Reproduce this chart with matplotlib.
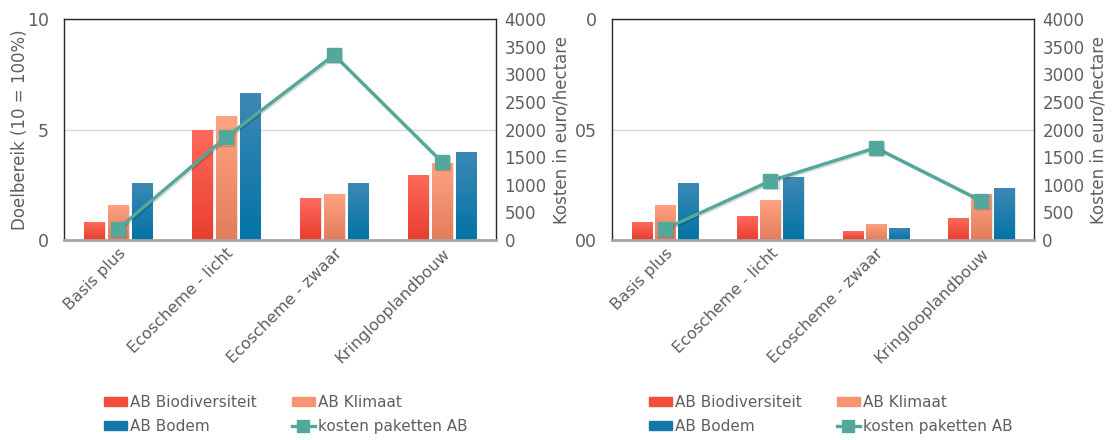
import numpy as np
import matplotlib
matplotlib.use("Agg")
import matplotlib.pyplot as plt
import matplotlib.patheffects as pe
from matplotlib.patches import Patch
from matplotlib.lines import Line2D

plt.rcParams['font.family'] = ['DejaVu Sans']

categories = ['Basis plus', 'Ecoscheme - licht', 'Ecoscheme - zwaar', 'Kringlooplandbouw']
series_names = ['AB Biodiversiteit', 'AB Klimaat', 'AB Bodem']
line_name = 'kosten paketten AB'

# left chart
left_bio = [0.8, 5.0, 1.9, 2.95]
left_klimaat = [1.6, 5.6, 2.1, 3.5]
left_bodem = [2.6, 6.65, 2.6, 4.0]
left_kosten = [200, 1860, 3350, 1410]

# right chart
right_bio = [0.83, 1.1, 0.4, 1.0]
right_klimaat = [1.6, 1.82, 0.74, 2.1]
right_bodem = [2.6, 2.85, 0.56, 2.35]
right_kosten = [200, 1070, 1670, 710]

# gradient (top, bottom) per series
grads = [('#FF6A5C', '#E83E2E'), ('#FFA382', '#E27D5B'), ('#3D88B5', '#0274A6')]
solid = ['#F24C3D', '#F79473', '#1479A8']
teal = '#52A89B'
txt = '#5F5F5F'


def draw_bars(ax, values, offset, top_c, bot_c, width=0.19):
    x = np.arange(len(values)) + offset
    bars = ax.bar(x, values, width=width, color='none', edgecolor='none', zorder=2)
    grad = np.linspace(0, 1, 100).reshape(-1, 1)
    cmap = matplotlib.colors.LinearSegmentedColormap.from_list('g', [bot_c, top_c])
    for b in bars:
        x0, y0 = b.get_x(), b.get_y()
        w, h = b.get_width(), b.get_height()
        im = ax.imshow(grad, extent=[x0, x0 + w, y0, y0 + h], origin='lower',
                       cmap=cmap, aspect='auto', zorder=2)
        im.set_clip_path(b)
        ax.add_patch(plt.Rectangle((x0 + 0.012, y0), w, h, color='#000000', alpha=0.10,
                                   zorder=1.5, lw=0))


def make_panel(rect, bio, klimaat, bodem, kosten, left_labels, show_ylabel):
    ax = fig.add_axes(rect)
    for vals, off, (t, b) in zip([bio, klimaat, bodem], [-0.22, 0, 0.22], grads):
        draw_bars(ax, vals, off, t, b)
    ax.set_xlim(-0.5, 3.5)
    ax.set_ylim(0, 10)
    ax.set_yticks([0, 5, 10])
    ax.set_yticklabels(left_labels, color=txt, fontsize=12.5)
    ax.yaxis.grid(True, color='#D9D9D9', lw=1)
    ax.set_axisbelow(True)
    ax.tick_params(axis='y', length=0, pad=11)
    ax.tick_params(axis='x', length=0, pad=4)
    ax.set_xticks(range(len(categories)))
    ax.set_xticklabels(categories, rotation=45, ha='right', rotation_mode='anchor',
                       color=txt, fontsize=11.5)
    for s in ['left', 'top', 'right']:
        ax.spines[s].set_color('#262626')
        ax.spines[s].set_linewidth(1)
    ax.spines['bottom'].set_color('#A6A6A6')
    ax.spines['bottom'].set_linewidth(2)
    if show_ylabel:
        ax.set_ylabel('Doelbereik (10 = 100%)', color=txt, fontsize=12)
        ax.yaxis.set_label_coords(-0.08, 0.5)

    ax2 = ax.twinx()
    ax2.set_ylim(0, 4000)
    ax2.set_yticks(np.arange(0, 4001, 500))
    ax2.tick_params(axis='y', length=0, labelsize=12, labelcolor=txt, pad=6)
    for s in ax2.spines.values():
        s.set_visible(False)
    ax2.set_ylabel('Kosten in euro/hectare', color=txt, fontsize=12, labelpad=4)
    ax2.plot(range(len(kosten)), kosten, color=teal, lw=2.4, marker='s', markersize=10,
             zorder=5, path_effects=[pe.SimpleLineShadow(offset=(1, -1), alpha=0.15),
                                     pe.Normal()])
    return ax


fig = plt.figure(figsize=(11.19, 4.4), dpi=100)

make_panel([0.0572, 0.4545, 0.3861, 0.5023], left_bio, left_klimaat, left_bodem,
           left_kosten, ['0', '5', '10'], True)
make_panel([0.547, 0.4545, 0.377, 0.5023], right_bio, right_klimaat, right_bodem,
           right_kosten, ['00', '05', '0'], False)

handles = [Patch(color=solid[0]), Patch(color=solid[1]), Patch(color=solid[2]),
           Line2D([0], [0], color=teal, lw=2.4, marker='s', markersize=8)]
labels = [series_names[0], series_names[1], series_names[2], line_name]
order = [0, 2, 1, 3]
for xc in [0.0804, 0.5675]:
    fig.legend([handles[i] for i in order], [labels[i] for i in order], ncol=2,
               loc='lower left', bbox_to_anchor=(xc, -0.018), frameon=False,
               handlelength=1.55, handleheight=0.55, handletextpad=0.15,
               columnspacing=2.3, labelspacing=0.6, fontsize=11, labelcolor=txt)

fig.savefig('out.png', dpi=100)
